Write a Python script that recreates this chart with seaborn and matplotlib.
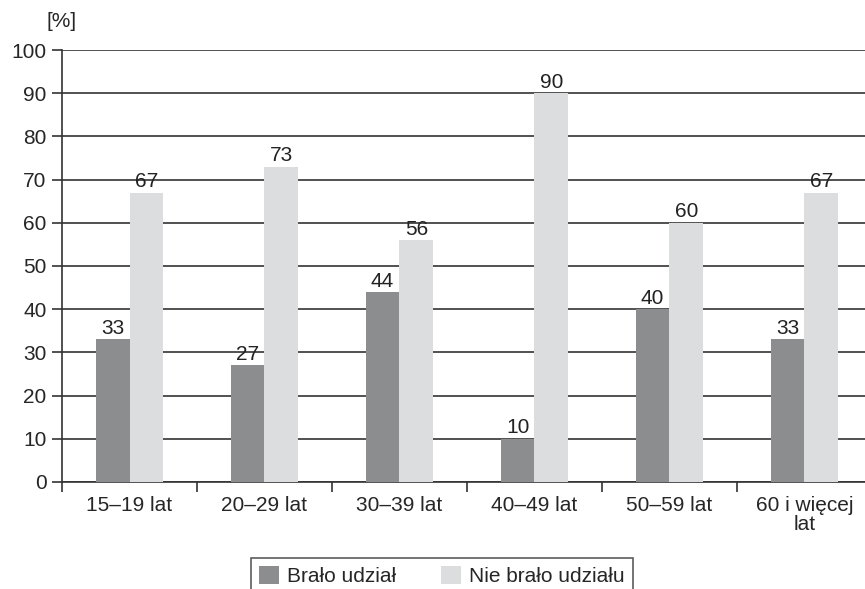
import seaborn as sns
import matplotlib.pyplot as plt
import numpy as np
import pandas as pd

groups = ["15–19 lat", "20–29 lat", "30–39 lat", "40–49 lat", "50–59 lat", "60 i więcej\nlat"]
took_part = [33, 27, 44, 10, 40, 33]
not_took_part = [67, 73, 56, 90, 60, 67]
series = ["Brało udział", "Nie brało udziału"]
yticks = list(range(0, 101, 10))

d = pd.DataFrame({
    "grupa": groups * 2,
    "seria": [series[0]] * len(groups) + [series[1]] * len(groups),
    "wartosc": took_part + not_took_part,
})

sns.set_style("white")
plt.rcParams["font.family"] = ["Liberation Sans", "DejaVu Sans"]

fig = plt.figure(figsize=(8.65, 5.89), dpi=100)
ax = fig.add_axes([0.0717, 0.1817, 0.9363, 0.7334])

sns.barplot(data=d, x="grupa", y="wartosc", hue="seria", order=groups, hue_order=series,
            palette=["#8c8d8f", "#dcdddf"], width=0.5, saturation=1, linewidth=0,
            ax=ax, zorder=3)

for c in ax.containers:
    ax.bar_label(c, fmt="%d", padding=1, fontsize=15, color="#222222")

ax.set_ylim(0, 100)
ax.set_xlim(-0.5, len(groups) - 0.5)
ax.set_yticks(yticks)
ax.tick_params(axis="y", labelsize=15, length=7, width=1.2, color="#333333", left=True, pad=4)
ax.grid(axis="y", color="#333333", linewidth=1.2, zorder=1)
ax.set_axisbelow(True)

ax.set_xticks(np.arange(-0.5, len(groups), 1.0))
ax.set_xticklabels([])
ax.set_xticks(np.arange(len(groups)), minor=True)
ax.set_xticklabels(groups, minor=True, fontsize=15, linespacing=1.0)
ax.tick_params(axis="x", which="major", length=7, width=1.2, color="#333333", bottom=True)
ax.tick_params(axis="x", which="minor", length=0, pad=10)

for s in ["top", "right"]:
    ax.spines[s].set_visible(False)
for s in ["left", "bottom"]:
    ax.spines[s].set_color("#333333")
    ax.spines[s].set_linewidth(1.2)

ax.set_xlabel("")
ax.set_ylabel("")
ax.text(0.0, 1.045, "[%]", transform=ax.transAxes, fontsize=15, ha="center", va="bottom")

ax.get_legend().remove()
h, l = ax.get_legend_handles_labels()
leg = fig.legend(h, l, loc="upper center", bbox_to_anchor=(0.511, 0.0526), ncol=2,
                 frameon=True, fancybox=False, fontsize=15, handlelength=0.95, handleheight=0.95,
                 columnspacing=2.15, borderpad=0.4, handletextpad=0.4, borderaxespad=0)
leg.get_frame().set_edgecolor("#333333")
leg.get_frame().set_linewidth(1.2)

fig.savefig("out.png", dpi=100)
